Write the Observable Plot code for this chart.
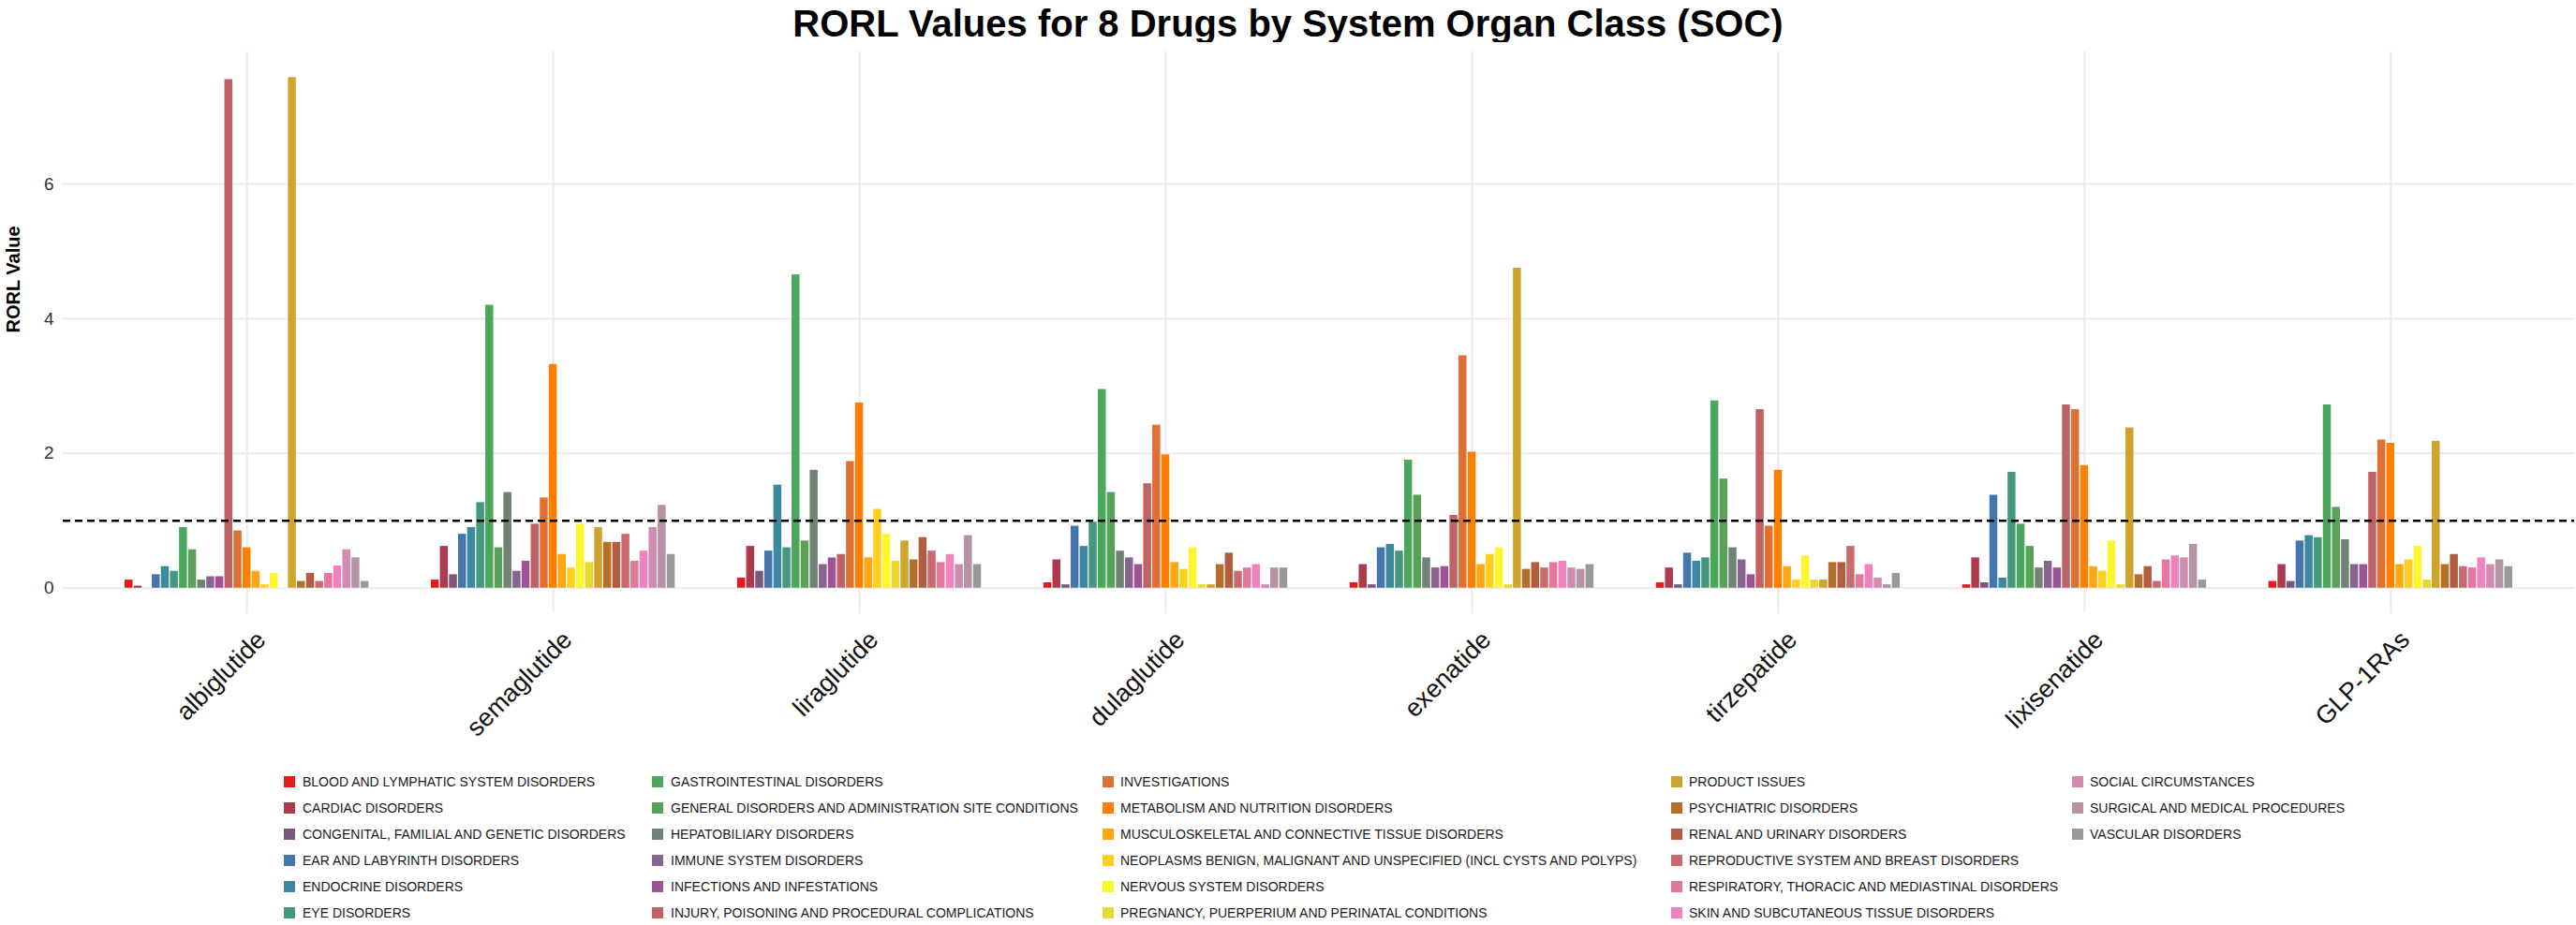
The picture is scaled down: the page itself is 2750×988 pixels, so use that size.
<!DOCTYPE html>
<html><head><meta charset="utf-8">
<script src="https://cdn.jsdelivr.net/npm/d3@7"></script>
<script src="https://cdn.jsdelivr.net/npm/@observablehq/plot@0.6"></script>
<style>
body{margin:0;background:#fff;font-family:"Liberation Sans",Arial,sans-serif;}
#wrap{position:relative;width:2750px;height:988px;overflow:hidden;}
#title{position:absolute;left:0;top:2px;width:2750px;text-align:center;font-weight:bold;font-size:40px;line-height:46px;color:#000;}
#chart{position:absolute;left:0;top:45px;}
#legend{position:absolute;left:0;top:0;width:2750px;height:988px;}
.lt{position:absolute;font-size:14px;color:#1a1a1a;white-space:nowrap;line-height:16px;}
.sw{position:absolute;width:12px;height:12px;}
</style></head><body>
<div id="wrap"><div id="title">RORL Values for 8 Drugs by System Organ Class (SOC)</div><div id="chart"></div><div id="legend"></div></div>
<script>
const drugs = ["albiglutide","semaglutide","liraglutide","dulaglutide","exenatide","tirzepatide","lixisenatide","GLP-1RAs"];
const socs = [
 "BLOOD AND LYMPHATIC SYSTEM DISORDERS","CARDIAC DISORDERS","CONGENITAL, FAMILIAL AND GENETIC DISORDERS",
 "EAR AND LABYRINTH DISORDERS","ENDOCRINE DISORDERS","EYE DISORDERS","GASTROINTESTINAL DISORDERS",
 "GENERAL DISORDERS AND ADMINISTRATION SITE CONDITIONS","HEPATOBILIARY DISORDERS","IMMUNE SYSTEM DISORDERS",
 "INFECTIONS AND INFESTATIONS","INJURY, POISONING AND PROCEDURAL COMPLICATIONS","INVESTIGATIONS",
 "METABOLISM AND NUTRITION DISORDERS","MUSCULOSKELETAL AND CONNECTIVE TISSUE DISORDERS",
 "NEOPLASMS BENIGN, MALIGNANT AND UNSPECIFIED (INCL CYSTS AND POLYPS)","NERVOUS SYSTEM DISORDERS",
 "PREGNANCY, PUERPERIUM AND PERINATAL CONDITIONS","PRODUCT ISSUES","PSYCHIATRIC DISORDERS",
 "RENAL AND URINARY DISORDERS","REPRODUCTIVE SYSTEM AND BREAST DISORDERS",
 "RESPIRATORY, THORACIC AND MEDIASTINAL DISORDERS","SKIN AND SUBCUTANEOUS TISSUE DISORDERS",
 "SOCIAL CIRCUMSTANCES","SURGICAL AND MEDICAL PROCEDURES","VASCULAR DISORDERS"];

// RORL values, one per SOC (same order as socs)
const albiglutide  = [0.12,0.03,0.00,0.20,0.32,0.25,0.90,0.57,0.12,0.17,0.17,7.55,0.85,0.60,0.25,0.05,0.22,0.00,7.58,0.10,0.22,0.10,0.22,0.33,0.57,0.45,0.10];
const semaglutide  = [0.12,0.62,0.20,0.80,0.90,1.27,4.20,0.60,1.42,0.25,0.40,0.95,1.34,3.32,0.50,0.30,0.95,0.38,0.90,0.68,0.68,0.80,0.40,0.55,0.90,1.23,0.50];
const liraglutide  = [0.15,0.62,0.25,0.55,1.53,0.60,4.65,0.70,1.75,0.35,0.45,0.50,1.88,2.75,0.45,1.17,0.80,0.40,0.70,0.42,0.75,0.55,0.38,0.50,0.35,0.78,0.35];
const dulaglutide  = [0.08,0.42,0.05,0.92,0.62,0.98,2.95,1.42,0.55,0.45,0.35,1.55,2.42,1.98,0.38,0.28,0.60,0.05,0.05,0.35,0.52,0.25,0.30,0.35,0.05,0.30,0.30];
const exenatide    = [0.08,0.35,0.05,0.60,0.65,0.55,1.90,1.38,0.45,0.30,0.32,1.08,3.45,2.02,0.35,0.50,0.60,0.05,4.75,0.28,0.38,0.30,0.38,0.40,0.30,0.28,0.35];
const tirzepatide  = [0.08,0.30,0.05,0.52,0.40,0.45,2.78,1.62,0.60,0.42,0.20,2.65,0.92,1.75,0.32,0.12,0.48,0.12,0.12,0.38,0.38,0.62,0.20,0.35,0.15,0.05,0.22];
const lixisenatide = [0.05,0.45,0.08,1.38,0.15,1.72,0.95,0.62,0.30,0.40,0.30,2.72,2.65,1.82,0.32,0.25,0.70,0.05,2.38,0.20,0.32,0.10,0.42,0.48,0.45,0.65,0.12];
const glp1ras      = [0.10,0.35,0.10,0.70,0.78,0.75,2.72,1.20,0.72,0.35,0.35,1.72,2.20,2.15,0.35,0.42,0.62,0.12,2.18,0.35,0.50,0.32,0.30,0.45,0.35,0.42,0.32];
const seriesByDrug = [albiglutide,semaglutide,liraglutide,dulaglutide,exenatide,tirzepatide,lixisenatide,glp1ras];

const yTicks = [0,2,4,6];
const threshold = 1;

// palette: colorRampPalette(Set1) style, linear RGB ramp over the 9 Set1 colours
const ramp = d3.piecewise(d3.interpolateRgb, d3.schemeSet1);
const palette = socs.map((_, i) => d3.color(ramp(i / (socs.length - 1))).formatHex());

// dodge: bars fill 0.8 of each category slot
const slot = 0.8 / socs.length;
const rows = [];
seriesByDrug.forEach((vals, i) => vals.forEach((v, j) => {
  const c = i + 1 + (j - (socs.length - 1) / 2) * slot;
  rows.push({drug: drugs[i], soc: socs[j], value: v, x1: c - slot / 2, x2: c + slot / 2});
}));
const drugPos = drugs.map((d, i) => ({drug: d, pos: i + 1}));

const chart = Plot.plot({
  width: 2750, height: 755,
  marginLeft: 67, marginRight: 2, marginTop: 10, marginBottom: 145,
  style: {fontFamily: "'Liberation Sans', Arial, sans-serif", background: "white"},
  x: {domain: [0.4, drugs.length + 0.6], axis: null},
  y: {domain: [-0.379, 7.96], axis: null},
  color: {domain: socs, range: palette},
  marks: [
    Plot.gridX(drugPos.map(d => d.pos), {stroke: "#EBEBEB", strokeOpacity: 1, strokeWidth: 2}),
    Plot.gridY(yTicks, {stroke: "#EBEBEB", strokeOpacity: 1, strokeWidth: 2}),
    Plot.rect(rows, {x1: "x1", x2: "x2", y1: 0, y2: "value", fill: "soc", insetLeft: 0.6, insetRight: 0.6}),
    Plot.ruleY([threshold], {stroke: "black", strokeWidth: 2.5, strokeDasharray: "8,5"}),
    Plot.text(yTicks, {x: 0.4, y: d => d, text: d => String(d), textAnchor: "end", dx: -10, fontSize: 19, fill: "#333"}),
    Plot.text(drugPos, {x: "pos", frameAnchor: "bottom", text: "drug", rotate: -45, textAnchor: "end", lineAnchor: "top", dx: 8, dy: 16, fontSize: 27, fill: "#111"}),
    Plot.text(["RORL Value"], {frameAnchor: "left", rotate: -90, dx: -53, fontSize: 20, fontWeight: "bold", fill: "#000"})
  ]
});
document.getElementById("chart").appendChild(chart);

// legend: 5 columns x 6 rows, filled column-wise
const legSwX = [303, 696, 1177, 1784, 2212];
const legTxX = [323, 716, 1196, 1803, 2231];
const legRowY = [835, 863, 891, 919, 947, 975];
const leg = document.getElementById("legend");
socs.forEach((s, j) => {
  const col = Math.floor(j / 6), row = j % 6;
  const sw = document.createElement("div");
  sw.className = "sw"; sw.style.left = legSwX[col] + "px"; sw.style.top = (legRowY[row] - 6) + "px";
  sw.style.background = palette[j];
  leg.appendChild(sw);
  const t = document.createElement("div");
  t.className = "lt"; t.style.left = legTxX[col] + "px"; t.style.top = (legRowY[row] - 8) + "px";
  t.textContent = s;
  leg.appendChild(t);
});
</script>
</body></html>
